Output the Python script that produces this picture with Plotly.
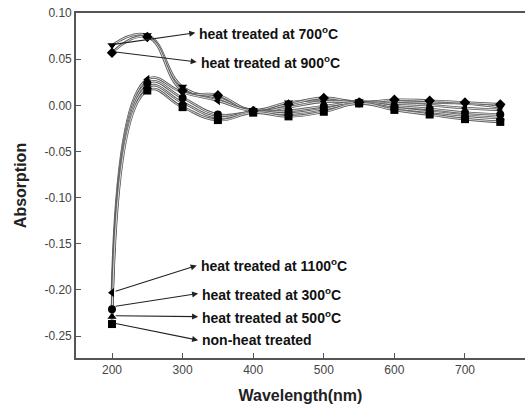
import plotly.graph_objects as go

wavelength = [200, 250, 300, 350, 400, 450, 500, 550, 600, 650, 700, 750]

s_700 = [0.065, 0.076, 0.020, 0.008, -0.005, 0.003, 0.006, 0.004, 0.004, 0.003, 0.002, -0.002]
s_900 = [0.057, 0.074, 0.016, 0.011, -0.006, 0.001, 0.008, 0.003, 0.006, 0.005, 0.003, 0.001]
s_1100 = [-0.203, 0.028, 0.014, 0.005, -0.006, -0.002, 0.004, 0.003, 0.002, 0.000, -0.003, -0.005]
s_300 = [-0.221, 0.024, 0.008, -0.010, -0.007, -0.006, -0.001, 0.003, -0.001, -0.004, -0.008, -0.010]
s_500 = [-0.229, 0.020, 0.003, -0.013, -0.007, -0.009, -0.004, 0.002, -0.003, -0.007, -0.011, -0.014]
s_non = [-0.237, 0.016, -0.002, -0.016, -0.008, -0.012, -0.007, 0.002, -0.005, -0.010, -0.015, -0.018]

series = [
    ("heat treated at 700°C", s_700, "triangle-down"),
    ("heat treated at 900°C", s_900, "diamond"),
    ("heat treated at 1100°C", s_1100, "triangle-left"),
    ("heat treated at 300°C", s_300, "circle"),
    ("heat treated at 500°C", s_500, "triangle-up"),
    ("non-heat treated", s_non, "square"),
]

y_ticks = [0.10, 0.05, 0.00, -0.05, -0.10, -0.15, -0.20, -0.25]
y_ticktext = ["0.10", "0.05", "0.00", "-0.05", "-0.10", "-0.15", "-0.20", "-0.25"]
x_ticks = [200, 300, 400, 500, 600, 700]

# annotation labels: (text, tail_x, tail_y, head_x, head_y)
labels = [
    ("heat treated at 700<sup>o</sup>C", 203, 0.066, 318, 0.0785),
    ("heat treated at 900<sup>o</sup>C", 203, 0.058, 320, 0.0470),
    ("heat treated at 1100<sup>o</sup>C", 203, -0.202, 320, -0.1735),
    ("heat treated at 300<sup>o</sup>C", 203, -0.218, 322, -0.2040),
    ("heat treated at 500<sup>o</sup>C", 203, -0.228, 322, -0.2290),
    ("non-heat treated", 203, -0.236, 322, -0.2545),
]

fig = go.Figure()

for name, ys, sym in series:
    fig.add_trace(go.Scatter(x=wavelength, y=ys, mode="lines",
                             line=dict(color="#5a5a5a", width=2.6, shape="spline", smoothing=1.3),
                             showlegend=False, hoverinfo="skip"))
    fig.add_trace(go.Scatter(x=wavelength, y=ys, mode="lines",
                             line=dict(color="#e8e8e8", width=0.9, shape="spline", smoothing=1.3),
                             showlegend=False, hoverinfo="skip"))
for name, ys, sym in series:
    fig.add_trace(go.Scatter(x=wavelength, y=ys, mode="markers", name=name,
                             marker=dict(symbol=sym, size=8, color="black"),
                             showlegend=False))

for text, tx, ty, hx, hy in labels:
    fig.add_annotation(x=hx, y=hy, ax=tx, ay=ty, xref="x", yref="y", axref="x", ayref="y",
                       text="", showarrow=True, arrowhead=2, arrowsize=1.1, arrowwidth=1.1,
                       arrowcolor="#222222")
    fig.add_annotation(x=hx + 3, y=hy, xref="x", yref="y", text=text, showarrow=False,
                       xanchor="left", yanchor="middle",
                       font=dict(family="Liberation Sans, Arial", size=14, color="#111111",
                                 weight="bold"))

fig.update_layout(
    width=525, height=407,
    margin=dict(l=76, r=0, t=13, b=49),
    paper_bgcolor="white", plot_bgcolor="white",
    font=dict(family="Liberation Sans, Arial", color="#333333", size=12),
    xaxis=dict(range=[149, 785], tickvals=x_ticks, ticks="inside", ticklen=5, tickwidth=1.2,
               tickcolor="#555555", showline=True, linecolor="#555555", linewidth=1.6,
               mirror=True, showgrid=False, zeroline=False,
               title=dict(text="<b>Wavelength(nm)</b>", font=dict(size=16, color="#222222"),
                          standoff=14),
               tickfont=dict(size=12, color="#444444")),
    yaxis=dict(range=[-0.2738, 0.1], tickvals=y_ticks, ticktext=y_ticktext, ticks="inside",
               ticklen=5, tickwidth=1.2, tickcolor="#555555", showline=True,
               linecolor="#555555", linewidth=1.6, showgrid=False, zeroline=False,
               title=dict(text="<b>Absorption</b>", font=dict(size=16, color="#222222"),
                          standoff=14),
               tickfont=dict(size=12, color="#444444")),
)

fig.write_html("out.html")
